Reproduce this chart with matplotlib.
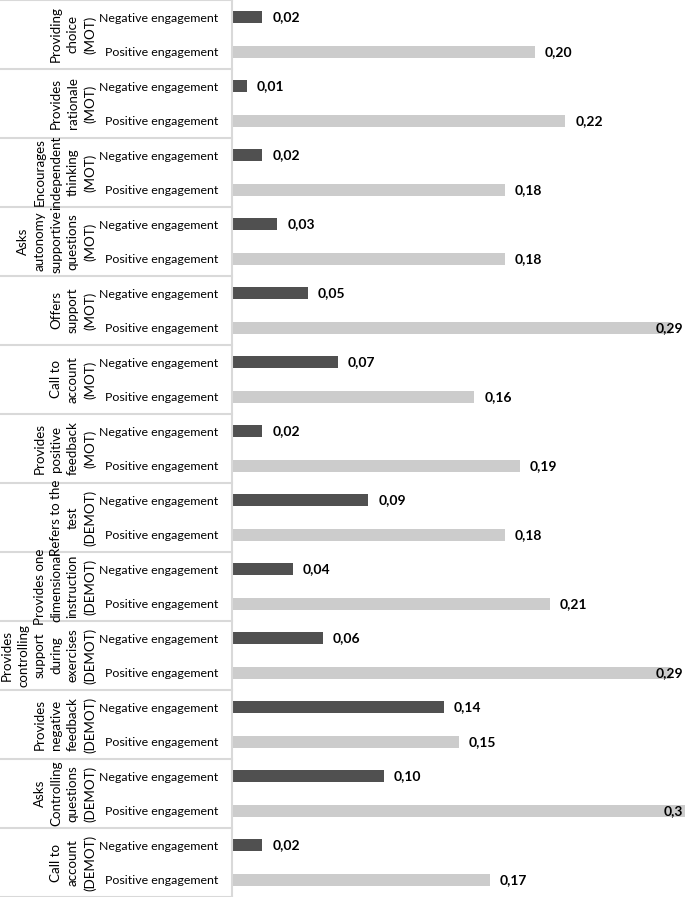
import matplotlib
matplotlib.use("Agg")
import matplotlib.pyplot as plt
import numpy as np

plt.rcParams['font.family'] = ['Lato', 'DejaVu Sans']

# behaviours, top to bottom
categories = [
    "Providing\nchoice\n(MOT)",
    "Provides\nrationale\n(MOT)",
    "Encourages\nindependent\nthinking\n(MOT)",
    "Asks\nautonomy\nsupportive\nquestions\n(MOT)",
    "Offers\nsupport\n(MOT)",
    "Call to\naccount\n(MOT)",
    "Provides\npositive\nfeedback\n(MOT)",
    "Refers to the\ntest\n(DEMOT)",
    "Provides one\ndimensional\ninstruction\n(DEMOT)",
    "Provides\ncontrolling\nsupport\nduring\nexercises\n(DEMOT)",
    "Provides\nnegative\nfeedback\n(DEMOT)",
    "Asks\nControlling\nquestions\n(DEMOT)",
    "Call to\naccount\n(DEMOT)",
]
series = ["Negative engagement", "Positive engagement"]
negative = [0.02, 0.01, 0.02, 0.03, 0.05, 0.07, 0.02, 0.09, 0.04, 0.06, 0.14, 0.10, 0.02]
positive = [0.20, 0.22, 0.18, 0.18, 0.29, 0.16, 0.19, 0.18, 0.21, 0.29, 0.15, 0.30, 0.17]
neg_labels = ["0,02", "0,01", "0,02", "0,03", "0,05", "0,07", "0,02", "0,09", "0,04", "0,06", "0,14", "0,10", "0,02"]
pos_labels = ["0,20", "0,22", "0,18", "0,18", "0,29", "0,16", "0,19", "0,18", "0,21", "0,29", "0,15", "0,3", "0,17"]

dark = "#505050"
light = "#cccccc"
grid_col = "#d9d9d9"
xmax = 0.299

fig = plt.figure(figsize=(6.85, 8.97), dpi=100)
left_px = 232
ax = fig.add_axes([left_px / 685, 0, 1 - left_px / 685, 1])

n = len(categories)
y_neg = np.arange(n) * 2
y_pos = y_neg + 1
ax.barh(y_neg, negative, height=0.35, color=dark)
ax.barh(y_pos, positive, height=0.35, color=light)

ax.set_xlim(0, xmax)
ax.set_ylim(2 * n - 0.5, -0.5)

ticks = np.concatenate([y_neg, y_pos])
ax.set_yticks(ticks)
ax.set_yticklabels([series[0]] * n + [series[1]] * n, fontsize=8.9)
ax.tick_params(axis='y', length=0, pad=10)
ax.set_xticks([])
for s in ['top', 'right', 'bottom']:
    ax.spines[s].set_visible(False)
ax.spines['left'].set_color(grid_col)
ax.spines['left'].set_linewidth(1.5)

# value labels
for ys, vals, labs in [(y_neg, negative, neg_labels), (y_pos, positive, pos_labels)]:
    for y, v, lab in zip(ys, vals, labs):
        if v + 0.02 > xmax:
            ax.text(xmax - 0.001, y, lab, ha='right', va='center',
                    fontsize=10, fontweight='bold')
        else:
            ax.text(v + 0.0065, y, lab, ha='left', va='center',
                    fontsize=10, fontweight='bold')

# category separators and labels in the left margin
ax_w = 685 - left_px
x0 = -left_px / ax_w
trans = ax.get_yaxis_transform()
for g in range(n + 1):
    ax.plot([x0, 0], [2 * g - 0.5, 2 * g - 0.5], color=grid_col, lw=1.5,
            transform=trans, clip_on=False)
for g, cat in enumerate(categories):
    ax.text((96 - left_px) / ax_w, 2 * g + 0.5, cat, transform=trans,
            rotation=90, ha='right', va='center', multialignment='center',
            fontsize=9.6, linespacing=1.45)

fig.savefig("out.png", dpi=100)
